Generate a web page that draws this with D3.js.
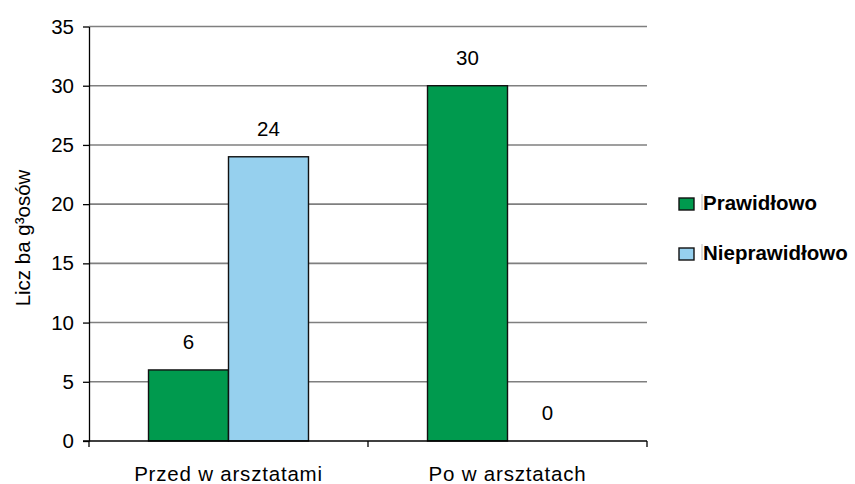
<!DOCTYPE html>
<html>
<head>
<meta charset="utf-8">
<script src="https://cdn.jsdelivr.net/npm/d3@7/dist/d3.min.js"></script>
<style>
  html, body { margin: 0; padding: 0; background: #fff; }
  svg text { font-family: "Liberation Sans", Arial, sans-serif; fill: #000; }
</style>
</head>
<body>
<svg id="chart" width="855" height="484"></svg>
<script>
// Categories, series and values
const categories = ["Przed w arsztatami", "Po w arsztatach"];
const seriesNames = ["Prawidłowo", "Nieprawidłowo"];
const prawidlowo = [6, 30];
const nieprawidlowo = [24, 0];
const seriesColors = ["#009a4e", "#96d0ee"];
const yTicks = [0, 5, 10, 15, 20, 25, 30, 35];
const yTitle = "Licz ba g³osów";

const FS = 20.5;

const seriesValues = [prawidlowo, nieprawidlowo];
const rows = categories.map((c, i) => ({
  cat: c,
  vals: seriesNames.map((s, j) => ({ key: s, value: seriesValues[j][i], color: seriesColors[j] }))
}));

const svg = d3.select("#chart");
const plot = { left: 89, right: 647, top: 26.5, bottom: 441 };

const y = d3.scaleLinear().domain([0, 35]).range([plot.bottom, plot.top]);
const x0 = d3.scaleBand().domain(categories).range([plot.left, plot.right]).padding(0);
const x1 = d3.scaleBand().domain(seriesNames).range([0, x0.bandwidth()])
  .paddingInner(0).paddingOuter(0.744);

// Horizontal gridlines
svg.append("g")
  .selectAll("line")
  .data(yTicks.filter(t => t > 0))
  .join("line")
  .attr("x1", plot.left).attr("x2", plot.right)
  .attr("y1", d => y(d)).attr("y2", d => y(d))
  .attr("stroke", "#7f7f7f").attr("stroke-width", 1.6);

// Bars
const groups = svg.append("g")
  .selectAll("g")
  .data(rows)
  .join("g")
  .attr("transform", d => `translate(${x0(d.cat)},0)`);

groups.selectAll("rect")
  .data(d => d.vals.filter(v => v.value > 0))
  .join("rect")
  .attr("x", d => x1(d.key))
  .attr("y", d => y(d.value))
  .attr("width", x1.bandwidth())
  .attr("height", d => y(0) - y(d.value))
  .attr("fill", d => d.color)
  .attr("stroke", "#111")
  .attr("stroke-width", 1.4);

// Value labels
groups.selectAll("text")
  .data(d => d.vals)
  .join("text")
  .attr("x", d => x1(d.key) + x1.bandwidth() / 2)
  .attr("y", d => y(d.value) - 21)
  .attr("text-anchor", "middle")
  .attr("font-size", FS)
  .text(d => d.value);

// Y axis
const yAxis = svg.append("g")
  .attr("transform", `translate(${plot.left},0)`)
  .call(d3.axisLeft(y).tickValues(yTicks).tickSize(6).tickPadding(9).tickSizeOuter(0));
yAxis.select(".domain").attr("stroke", "#000").attr("stroke-width", 1.3);
yAxis.selectAll(".tick line").attr("stroke", "#000").attr("stroke-width", 1.3);
yAxis.selectAll(".tick text").attr("font-size", FS).attr("font-family", "Liberation Sans, Arial, sans-serif").attr("fill", "#000");

// X axis with ticks at category boundaries
const xAxisG = svg.append("g").attr("transform", `translate(0,${plot.bottom})`);
xAxisG.append("line")
  .attr("x1", plot.left - 6).attr("x2", plot.right)
  .attr("stroke", "#000").attr("stroke-width", 1.3);
const boundaries = categories.map(c => x0(c)).concat([x0(categories[categories.length - 1]) + x0.bandwidth()]);
xAxisG.selectAll("line.tk")
  .data(boundaries)
  .join("line")
  .attr("class", "tk")
  .attr("x1", d => d).attr("x2", d => d)
  .attr("y1", 0).attr("y2", 6)
  .attr("stroke", "#000").attr("stroke-width", 1.3);
xAxisG.selectAll("text")
  .data(categories)
  .join("text")
  .attr("x", d => x0(d) + x0.bandwidth() / 2)
  .attr("y", 40)
  .attr("text-anchor", "middle")
  .attr("font-size", FS)
  .attr("letter-spacing", 0.8)
  .text(d => d);

// Y axis title
svg.append("text")
  .attr("transform", "translate(30,238) rotate(-90)")
  .attr("text-anchor", "middle")
  .attr("font-size", FS)
  .text(yTitle);

// Legend
const legend = svg.append("g").attr("transform", "translate(679,198)");
const items = legend.selectAll("g")
  .data(seriesNames.map((s, i) => ({ name: s, color: seriesColors[i] })))
  .join("g")
  .attr("transform", (d, i) => `translate(0,${i * 50})`);
items.append("rect")
  .attr("width", 15).attr("height", 12)
  .attr("fill", d => d.color)
  .attr("stroke", "#111").attr("stroke-width", 1.4);
items.append("line")
  .attr("x1", 23).attr("x2", 23).attr("y1", -4).attr("y2", 12)
  .attr("stroke", "#bbb").attr("stroke-width", 1);
items.append("text")
  .attr("x", 24).attr("y", 11.5)
  .attr("font-size", FS)
  .attr("font-weight", "bold")
  .text(d => d.name);
</script>
</body>
</html>
